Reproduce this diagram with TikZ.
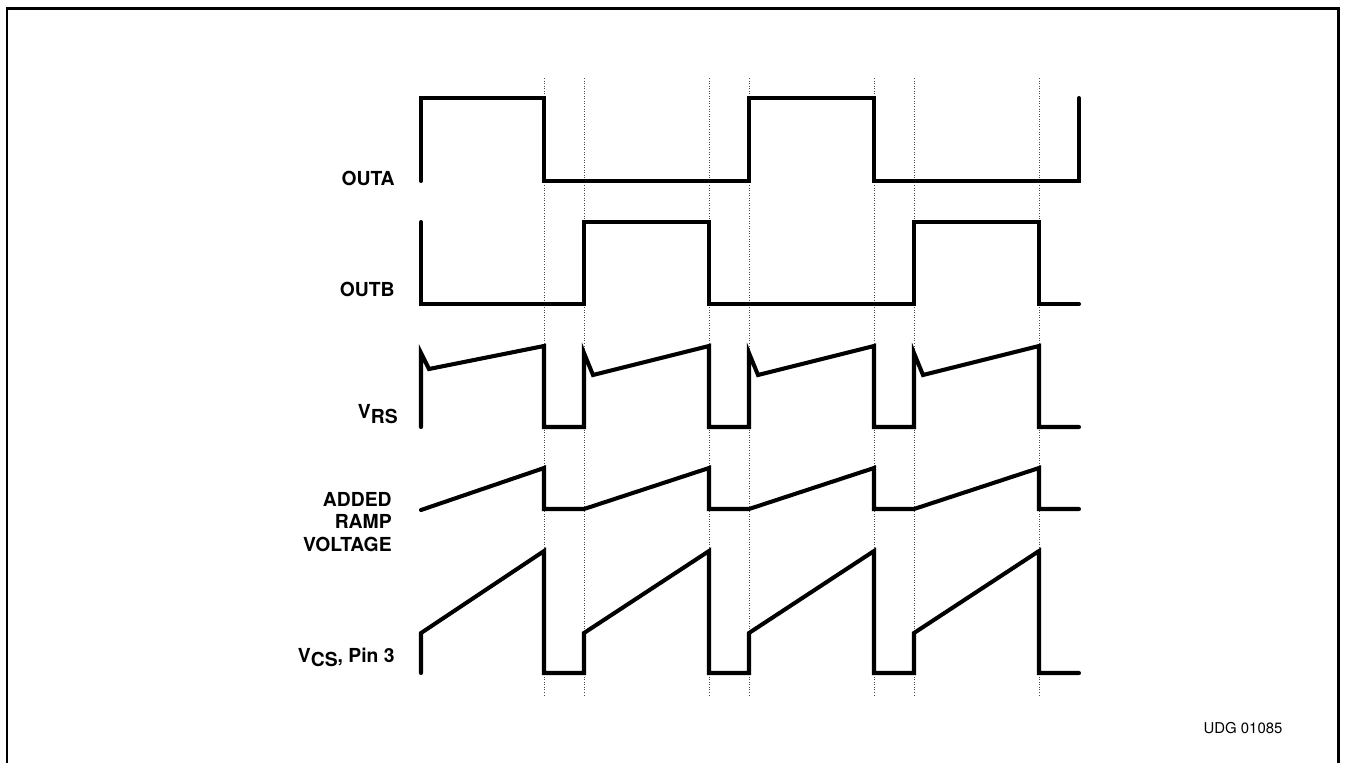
\documentclass[tikz,border=0pt]{standalone}
\usepackage{fontspec}
\setmainfont{TeX Gyre Heros}
\begin{document}
\begin{tikzpicture}[x=0.02cm,y=-0.02cm,
	signal/.style={line width=2.3pt, line join=miter, line cap=round},
	repere/.style={densely dotted, black!70, line width=0.45pt},
	nom/.style={anchor=east, inner sep=0pt, font=\fontsize{11}{13}\selectfont\bfseries, align=right}]
	\useasboundingbox (0,0) rectangle (1347,762);
	\begin{scope}
		\clip (0,0) rectangle (1347,762);
		\draw[line width=1.7pt] (7,8) rectangle (1338,790);
	\end{scope}
	% reperes de temps
	\foreach \t in {544,584,709,749,874,914,1039}
		\draw[repere] (\t,78) -- (\t,695);
	% OUTA
	\draw[signal] (421,181) -- (421,98) -- (544,98) -- (544,181) -- (749,181) -- (749,98)
		-- (874,98) -- (874,181) -- (1079,181) -- (1079,98);
	% OUTB
	\draw[signal] (421,222) -- (421,304) -- (584,304) -- (584,222) -- (709,222) -- (709,304)
		-- (914,304) -- (914,222) -- (1039,222) -- (1039,304) -- (1079,304);
	% VRS
	\draw[signal] (421,427) -- (421,353) -- (429,369) -- (544,346) -- (544,427) -- (584,427)
		-- (584,353) -- (593,375) -- (709,346) -- (709,427) -- (749,427)
		-- (749,353) -- (758,375) -- (874,346) -- (874,427) -- (914,427)
		-- (914,353) -- (923,375) -- (1039,346) -- (1039,427) -- (1079,427);
	% rampe ajoutee
	\draw[signal] (421,510) -- (544,468) -- (544,509) -- (584,509) -- (709,468) -- (709,509)
		-- (749,509) -- (874,468) -- (874,509) -- (914,509) -- (1039,468) -- (1039,509) -- (1079,509);
	% VCS
	\draw[signal] (421,673) -- (421,633) -- (544,551) -- (544,673) -- (584,673)
		-- (584,633) -- (709,551) -- (709,673) -- (749,673)
		-- (749,633) -- (874,551) -- (874,673) -- (914,673)
		-- (914,633) -- (1039,551) -- (1039,673) -- (1079,673);
	\path
		(395,178) node[nom] (outa) {OUTA}
		(395,289) node[nom] (outb) {OUTB}
		(398,414) node[nom] (vrs) {V\raisebox{-0.4ex}{RS}}
		(392,522) node[nom] (ramp) {ADDED\\RAMP\\VOLTAGE}
		(395,657) node[nom] (vcs) {V\raisebox{-0.4ex}{CS}, Pin 3}
		(1243,728) node[font=\fontsize{8.5}{10}\selectfont, inner sep=0pt] (udg) {UDG 01085}
	;
\end{tikzpicture}
\end{document}
